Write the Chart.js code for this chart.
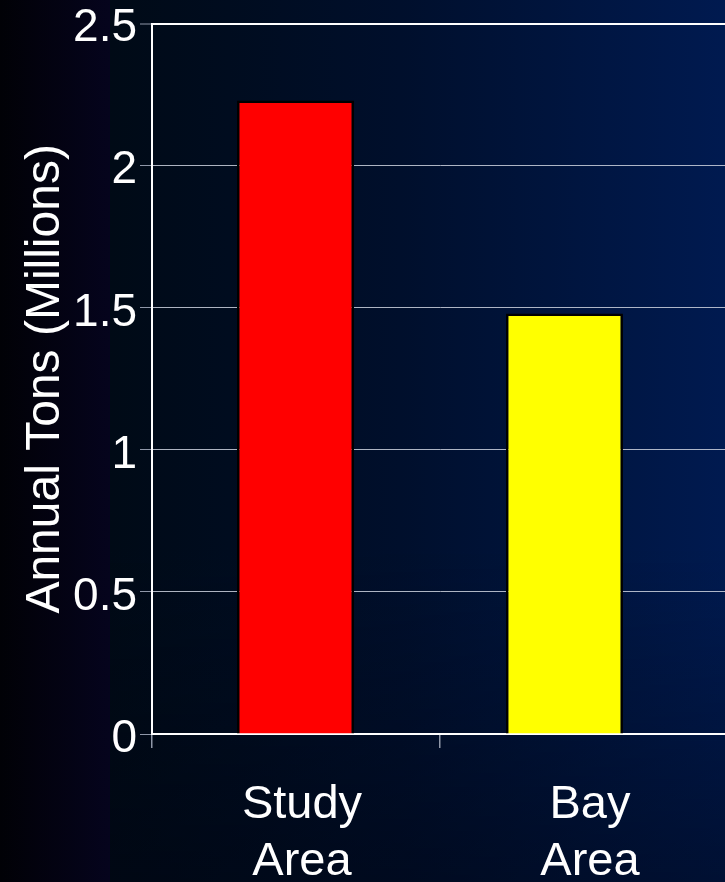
<!DOCTYPE html>
<html>
<head>
<meta charset="utf-8">
<title>Annual Tons (Millions)</title>
<script src="https://cdn.jsdelivr.net/npm/chart.js@4.4.1/dist/chart.umd.min.js"></script>
<style>
  html, body {
    margin: 0;
    padding: 0;
    width: 725px;
    height: 882px;
    overflow: hidden;
  }
  body {
    background:
      linear-gradient(to right, #010106 0px, #05041d 110px, transparent 110px),
      linear-gradient(to bottom, rgba(0, 4, 16, 0) 62%, rgba(0, 4, 16, 0.45) 100%),
      linear-gradient(to right, #000a16 110px, #000f2c 400px, #001a50 725px);
  }
  #wrap {
    position: absolute;
    left: 0;
    top: 0;
    width: 730px;
    height: 882px;
  }
</style>
</head>
<body>
<div id="wrap"><canvas id="chart" width="730" height="882"></canvas></div>
<script>
// Category labels (two lines each) and annual tonnage in millions
const categories = [['Study', 'Area'], ['Bay', 'Area']];
const tonsMillions = [2.23, 1.48];
const barColors = ['#ff0000', '#ffff00'];
const yTickStep = 0.5;
const yMax = 2.5;
const axisTitle = 'Annual Tons (Millions)';

const FONT = "'Liberation Sans', Arial, sans-serif";

new Chart(document.getElementById('chart'), {
  type: 'bar',
  data: {
    labels: categories,
    datasets: [{
      data: tonsMillions.map((v, i) => ({ x: i, y: v })),
      xAxisID: 'xBars',
      backgroundColor: barColors,
      borderColor: '#000000',
      borderWidth: 2.5,
      barPercentage: 0.435,
      categoryPercentage: 1
    }]
  },
  options: {
    responsive: false,
    animation: false,
    events: [],
    layout: { padding: { left: 0, top: 22, right: 2, bottom: 0 } },
    plugins: {
      legend: { display: false },
      tooltip: { enabled: false }
    },
    scales: {
      x: {
        type: 'category',
        position: 'bottom',
        offset: true,
        grid: {
          offset: true,
          drawOnChartArea: false,
          tickLength: 14,
          color: '#8f97a8',
          lineWidth: 1.5
        },
        border: { color: '#ffffff', width: 2 },
        ticks: {
          color: '#ffffff',
          font: { family: FONT, size: 47, lineHeight: 1.2 },
          padding: 29,
          labelOffset: 6,
          maxRotation: 0,
          autoSkip: false
        },
        afterFit(scale) { scale.height = 148; }
      },
      // hidden index axis that places the bars (one tick per category)
      xBars: {
        type: 'linear',
        display: false,
        offset: false,
        min: -0.5335,
        max: 1.608,
        afterBuildTicks(scale) {
          scale.ticks = categories.map((_, i) => ({ value: i }));
        }
      },
      y: {
        min: 0,
        max: yMax,
        ticks: {
          stepSize: yTickStep,
          color: '#ffffff',
          font: { family: FONT, size: 46, lineHeight: 0.9 },
          padding: 3,
          labelOffset: 5,
          callback: v => String(v)
        },
        grid: {
          color: ctx => (ctx.tick && ctx.tick.value === yMax) ? '#ffffff' : 'rgba(205, 210, 222, 0.85)',
          lineWidth: ctx => (ctx.tick && ctx.tick.value === yMax) ? 2 : 1,
          tickLength: 12,
          tickColor: '#8f97a8',
          tickWidth: 1
        },
        border: { color: '#ffffff', width: 2 },
        title: {
          display: true,
          text: axisTitle,
          color: '#ffffff',
          font: { family: FONT, size: 48 },
          padding: { top: 17, bottom: 0 }
        },
        afterFit(scale) { scale.width = 152; }
      }
    }
  }
});
</script>
</body>
</html>
